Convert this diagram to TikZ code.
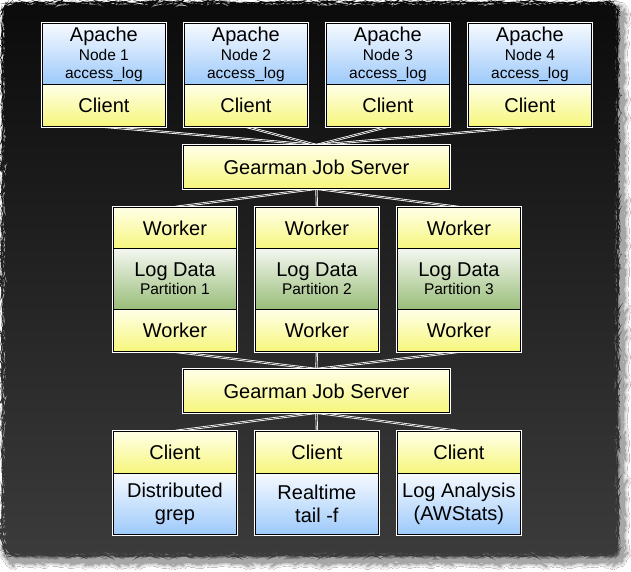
\documentclass[tikz,border=0pt]{standalone}
\usepackage{fontspec}
\setmainfont{Liberation Sans}
\usetikzlibrary{shadows.blur,fit,decorations.pathmorphing}
\pgfdeclarelayer{back}
\pgfdeclarelayer{links}
\pgfsetlayers{back,links,main}
\definecolor{ylwtop}{HTML}{FFFFE8}
\definecolor{ylwbot}{HTML}{F6F67C}
\definecolor{blutop}{HTML}{F6FAFF}
\definecolor{blubot}{HTML}{9DC9FA}
\definecolor{grntop}{HTML}{F4F7F1}
\definecolor{grnbot}{HTML}{99BD78}
\definecolor{pnltop}{HTML}{0B0B0B}
\definecolor{pnlbot}{HTML}{3B3B3B}
\newcommand{\bigtxt}{\fontsize{20}{23.5}\selectfont}
\newcommand{\smalltxt}{\fontsize{15.5}{18}\selectfont}

\begin{document}
\begin{tikzpicture}[x=1pt,y=-1pt,
  sect/.style={draw=black, line width=0.8pt, inner sep=0pt, anchor=north west,
    minimum width=123pt, align=center, font=\bigtxt},
  ylwsect/.style={sect, top color=ylwtop, bottom color=ylwbot, minimum height=42pt},
  blusect/.style={sect, top color=blutop, bottom color=blubot, minimum height=61pt},
  grnsect/.style={sect, top color=grntop, bottom color=grnbot, minimum height=61pt, font=\smalltxt},
  server/.style={ylwsect, minimum width=266pt, minimum height=43pt},
  frame/.style={draw=white, line width=1pt, inner sep=0.9pt},
  link/.style={draw=black, line width=0.5pt, preaction={draw=white, line width=2.2pt}}]
\useasboundingbox (0,0) rectangle (631,572);
%panel
\begin{pgfonlayer}{back}
\fill [white] (0,0) rectangle (631,572);
\shade [top color=pnltop, bottom color=pnlbot, rounded corners=10pt,
  decorate, decoration={random steps, segment length=2pt, amplitude=0.6pt},
  blur shadow={shadow xshift=5pt, shadow yshift=-6pt, shadow blur radius=4pt, shadow opacity=70}]
  (3,3) rectangle (617,555);
\end{pgfonlayer}
%apache nodes
\node [blusect, font=\smalltxt] (apache1) at (42,23) {{\bigtxt Apache}\\[1pt]Node 1\\access\_log};
\node [ylwsect] (client1) at (42,84) {Client};
\node [blusect, font=\smalltxt] (apache2) at (184,23) {{\bigtxt Apache}\\[1pt]Node 2\\access\_log};
\node [ylwsect] (client2) at (184,84) {Client};
\node [blusect, font=\smalltxt] (apache3) at (326,23) {{\bigtxt Apache}\\[1pt]Node 3\\access\_log};
\node [ylwsect] (client3) at (326,84) {Client};
\node [blusect, font=\smalltxt] (apache4) at (468,23) {{\bigtxt Apache}\\[1pt]Node 4\\access\_log};
\node [ylwsect] (client4) at (468,84) {Client};
\node [frame, fit=(apache1)(client1)] {};
\node [frame, fit=(apache2)(client2)] {};
\node [frame, fit=(apache3)(client3)] {};
\node [frame, fit=(apache4)(client4)] {};
%first job server
\node [server] (serverA) at (183,145) {Gearman Job Server};
\node [frame, fit=(serverA)] {};
%workers
\node [ylwsect] (workup1) at (113,207) {Worker};
\node [grnsect] (logdata1) at (113,248) {{\bigtxt Log Data}\\Partition 1};
\node [ylwsect] (workdn1) at (113,309) {Worker};
\node [ylwsect] (workup2) at (255,207) {Worker};
\node [grnsect] (logdata2) at (255,248) {{\bigtxt Log Data}\\Partition 2};
\node [ylwsect] (workdn2) at (255,309) {Worker};
\node [ylwsect] (workup3) at (397,207) {Worker};
\node [grnsect] (logdata3) at (397,248) {{\bigtxt Log Data}\\Partition 3};
\node [ylwsect] (workdn3) at (397,309) {Worker};
\node [frame, fit=(workup1)(workdn1)] {};
\node [frame, fit=(workup2)(workdn2)] {};
\node [frame, fit=(workup3)(workdn3)] {};
%second job server
\node [server] (serverB) at (183,369) {Gearman Job Server};
\node [frame, fit=(serverB)] {};
%user clients
\node [ylwsect] (user1) at (113,431) {Client};
\node [blusect] (tool1) at (113,473) {Distributed\\grep};
\node [ylwsect] (user2) at (255,431) {Client};
\node [blusect] (tool2) at (255,473) {Realtime\\tail -f};
\node [ylwsect] (user3) at (397,431) {Client};
\node [blusect] (tool3) at (397,473) {Log Analysis\\(AWStats)};
\node [frame, fit=(user1)(tool1)] {};
\node [frame, fit=(user2)(tool2)] {};
\node [frame, fit=(user3)(tool3)] {};
%links
\begin{pgfonlayer}{links}
\draw [link] (client1.south) -- (serverA.north);
\draw [link] (client2.south) -- (serverA.north);
\draw [link] (client3.south) -- (serverA.north);
\draw [link] (client4.south) -- (serverA.north);
\draw [link] (serverA.south) -- (workup1.north);
\draw [link] (serverA.south) -- (workup2.north);
\draw [link] (serverA.south) -- (workup3.north);
\draw [link] (workdn1.south) -- (serverB.north);
\draw [link] (workdn2.south) -- (serverB.north);
\draw [link] (workdn3.south) -- (serverB.north);
\draw [link] (serverB.south) -- (user1.north);
\draw [link] (serverB.south) -- (user2.north);
\draw [link] (serverB.south) -- (user3.north);
\end{pgfonlayer}
\end{tikzpicture}
\end{document}
